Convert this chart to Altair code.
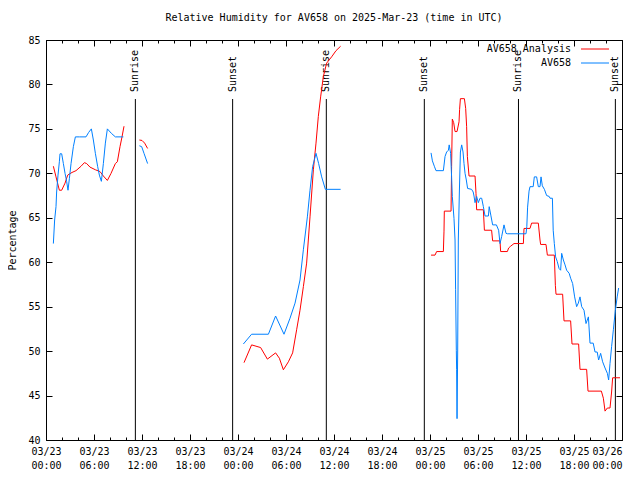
import altair as alt
import pandas as pd

MONO = "DejaVu Sans Mono"
TITLE = "Relative Humidity for AV658 on 2025-Mar-23 (time in UTC)"
SERIES = ["AV658 Analysis", "AV658"]
COLORS = ["#ff0000", "#0080ff"]
Y_TICKS = [40, 45, 50, 55, 60, 65, 70, 75, 80, 85]
# x axis: hours since 2025-03-23 00:00 UTC
X_MAJOR = [0, 6, 12, 18, 24, 30, 36, 42, 48, 54, 60, 66, 72]
X_MINOR = [0, 2, 4, 6, 8, 10, 12, 14, 16, 18, 20, 22, 24, 26, 28, 30, 32, 34, 36, 38, 40,
           42, 44, 46, 48, 50, 52, 54, 56, 58, 60, 62, 64, 66, 68, 70, 72]

an_h1 = [0.92, 1.25, 1.67, 1.96, 2.38, 2.71, 3.25, 3.75, 4.38, 4.8, 5.08, 5.5, 6.17, 6.75,
         7.17, 7.67, 8.13, 8.67, 8.92, 9.25, 9.5, 9.75]
an_v1 = [70.8, 69.6, 68.1, 68.1, 68.9, 69.8, 70.1, 70.3, 70.8, 71.2, 71.1, 70.7, 70.4, 70.2,
         69.7, 69.2, 70.0, 71.1, 71.3, 73.0, 74.1, 75.3]
an_h2 = [11.67, 12.0, 12.33, 12.7]
an_v2 = [73.75, 73.7, 73.4, 72.8]
an_h3 = [24.75, 25.7, 26.83, 27.67, 28.7, 29.17, 29.67, 30.3, 30.83, 31.33, 31.75, 32.17,
         32.58, 33.0, 33.42, 33.75, 34.04, 34.33, 34.67, 35.08, 35.7, 36.25, 36.83]
an_v3 = [48.7, 50.7, 50.4, 49.1, 49.8, 49.2, 47.9, 48.8, 49.8, 52.4, 54.6, 57.25,
         59.9, 65.1, 70.4, 73.4, 76.4, 78.6, 80.9, 82.4, 83.1, 83.8, 84.3]
an_h4 = [48.13, 48.63, 48.83, 49.67, 49.75, 49.79, 50.63, 50.7, 50.79, 50.96, 51.13, 51.38,
         51.63, 51.7, 51.8, 52.3, 52.46, 52.58, 52.67, 52.88, 53.63, 53.75, 53.83, 54.67,
         54.8, 55.7, 55.83, 56.75, 56.83, 57.67, 57.83, 58.08, 58.5, 59.67, 59.75, 60.5,
         60.7, 61.54, 61.75, 61.83, 62.5, 62.67, 63.54, 63.67, 63.75, 64.58, 64.75, 65.58,
         65.75, 66.58, 66.75, 67.58, 67.75, 69.42, 69.67, 69.88, 70.17, 70.5, 70.7, 70.83,
         71.75]
an_v4 = [60.8, 60.8, 61.2, 61.2, 63.5, 65.75, 65.75, 70.75, 76.1, 75.7, 74.7, 74.7,
         75.8, 77.2, 78.4, 78.4, 77.3, 75.25, 71.9, 69.7, 69.7, 67.75, 65.9, 65.9,
         63.6, 63.6, 62.4, 62.4, 61.2, 61.2, 61.6, 61.8, 62.1, 62.1, 63.8, 63.8,
         64.4, 64.4, 62.5, 62.0, 62.0, 60.8, 60.8, 57.4, 56.4, 56.4, 53.4, 53.4,
         50.8, 50.8, 47.95, 47.95, 45.5, 45.5, 44.7, 43.25, 43.6, 43.6, 45.4, 47.0,
         47.0]

ob_h1 = [0.92, 1.08, 1.25, 1.33, 1.5, 1.67, 1.75, 1.96, 2.17, 2.38, 2.58, 2.75, 2.92, 3.13,
         3.42, 3.67, 4.17, 5.0, 5.33, 5.67, 5.92, 6.17, 6.46, 6.67, 6.92, 7.17, 7.42, 7.67,
         8.17, 8.67, 9.67]
ob_v1 = [62.1, 64.75, 66.25, 67.9, 69.8, 71.3, 72.2, 72.2, 71.1, 70.0, 69.1, 68.1, 69.4, 71.1,
         73.0, 74.1, 74.1, 74.1, 74.6, 75.0, 73.75, 72.25, 70.75, 69.8, 69.1, 71.1, 73.4, 75.0,
         74.5, 74.1, 74.1]
ob_h2 = [11.67, 11.96, 12.25, 12.7]
ob_v2 = [73.1, 73.0, 72.25, 71.1]
ob_h3 = [24.67, 25.7, 27.8, 28.7, 29.75, 30.5, 31.13, 31.75, 32.17, 32.67, 33.0, 33.33,
         33.75, 34.08, 34.46, 34.92, 36.83]
ob_v3 = [50.8, 51.9, 51.9, 53.95, 51.9, 53.7, 55.4, 58.0, 61.4, 65.1, 68.1, 70.75,
         72.25, 71.1, 69.6, 68.2, 68.2]
ob_h4 = [48.13, 48.3, 48.54, 48.75, 49.67, 49.88, 50.08, 50.3, 50.4, 50.58, 50.7, 50.79,
         51.0, 51.13, 51.2, 51.29, 51.33, 51.38, 51.46, 51.54, 51.67, 51.8, 51.96, 52.13,
         52.25, 52.38, 52.54, 52.7, 53.2, 53.4, 53.5, 53.63, 53.83, 54.04, 54.25, 54.46,
         54.67, 54.88, 55.3, 55.4, 55.6, 55.83, 56.3, 56.58, 56.75, 56.96, 57.25, 57.5,
         57.67, 60.0, 60.1, 60.2, 60.38, 60.5, 60.9, 61.04, 61.33, 61.54, 61.75, 61.88,
         62.04, 62.3, 62.58, 62.9, 63.0, 63.3, 63.4, 63.54, 63.7, 63.9, 64.13, 64.33,
         64.46, 64.67, 64.88, 65.08, 65.4, 65.58, 65.83, 66.08, 66.33, 66.54, 66.75, 66.96,
         67.25, 67.5, 67.8, 68.0, 68.4, 68.63, 68.9, 69.08, 69.33, 69.58, 69.88, 70.17,
         70.33, 70.5, 70.7, 70.92, 71.17, 71.4, 71.58]
ob_v4 = [72.3, 71.4, 70.8, 70.3, 70.3, 71.9, 72.4, 72.6, 73.2, 72.25, 69.6, 67.4,
         64.9, 62.5, 56.9, 50.1, 47.9, 42.4, 49.9, 62.5, 67.9, 72.4, 73.2, 72.4,
         71.1, 70.0, 69.25, 68.3, 68.2, 67.9, 67.45, 66.7, 67.4, 66.7, 67.2, 67.2,
         66.25, 65.2, 65.2, 66.25, 65.3, 64.2, 64.2, 63.6, 62.1, 62.9, 64.2, 63.25,
         63.2, 63.2, 64.0, 66.2, 68.0, 68.5, 68.5, 69.6, 69.6, 68.5, 68.5, 69.6,
         68.6, 68.2, 67.5, 67.4, 67.2, 67.2, 63.6, 62.1, 60.6, 60.1, 59.3, 59.1,
         61.0, 60.25, 59.7, 59.1, 58.75, 58.2, 57.6, 56.1, 55.0, 55.4, 56.1, 55.0,
         54.6, 53.1, 53.85, 50.9, 50.9, 49.9, 49.9, 49.0, 49.75, 48.8, 48.1, 47.5,
         46.75, 48.6, 50.5, 52.4, 54.6, 56.1, 57.1]

sun_h = [11.17, 23.33, 35.04, 47.29, 59.06, 71.17]
sun_label = ["Sunrise", "Sunset", "Sunrise", "Sunset", "Sunrise", "Sunset"]

rows = []
for name, segs in [(SERIES[0], [(an_h1, an_v1), (an_h2, an_v2), (an_h3, an_v3), (an_h4, an_v4)]),
                   (SERIES[1], [(ob_h1, ob_v1), (ob_h2, ob_v2), (ob_h3, ob_v3), (ob_h4, ob_v4)])]:
    for i, (hs, vs) in enumerate(segs):
        for h, v in zip(hs, vs):
            rows.append({"series": name, "seg": f"{name}-{i}", "h": h, "rh": v})
df = pd.DataFrame(rows)
sun = pd.DataFrame({"h": sun_h, "label": sun_label})
legend_df = pd.DataFrame({"series": SERIES})

xscale = alt.Scale(domain=[0, 72], nice=False, zero=False)
yscale = alt.Scale(domain=[40, 85], nice=False, zero=False)
cscale = alt.Scale(domain=SERIES, range=COLORS)

LABEL_EXPR = ("['03/' + (23 + floor(datum.value / 24)), "
              "(datum.value % 24 < 10 ? '0' : '') + (datum.value % 24) + ':00']")


def xaxis(orient, values, size, labels):
    kw = dict(orient=orient, values=values, tickSize=size, offset=-size, tickColor="black",
              domain=False, grid=False, title=None, labels=labels)
    if labels:
        kw.update(labelExpr=LABEL_EXPR, labelFont=MONO, labelFontSize=10, labelColor="black",
                  labelPadding=6, labelFlush=False, labelOverlap=False, labelBound=False,
                  labelLineHeight=14,
                  labelAlign={"condition": {"test": "datum.value >= 72", "value": "right"},
                              "value": "center"})
    return alt.Axis(**kw)


def yaxis(orient, labels):
    kw = dict(orient=orient, values=Y_TICKS, tickSize=6, offset=-6, tickColor="black",
              domain=False, grid=False, labels=labels, title=None)
    if labels:
        kw.update(labelFont=MONO, labelFontSize=10, labelColor="black", labelPadding=6,
                  title="Percentage", titleFont=MONO, titleFontSize=10, titleFontWeight="normal",
                  titleColor="black", titleX=-40, titleBaseline="middle", titleAngle=270)
    return alt.Axis(**kw)


rules = alt.Chart(sun).mark_rule(color="black", strokeWidth=1).encode(
    x=alt.X("h:Q", scale=xscale, axis=xaxis("top", X_MINOR, 3, False)),
    y=alt.value(59), y2=alt.value(400))

texts = alt.Chart(sun).mark_text(angle=270, align="left", baseline="middle", font=MONO,
                                 fontSize=10, color="black").encode(
    x=alt.X("h:Q", scale=xscale, axis=xaxis("top", X_MAJOR, 6, False)),
    y=alt.value(52), text="label:N")

ghost = alt.Chart(df).mark_line(strokeOpacity=0).encode(
    x=alt.X("h:Q", scale=xscale, axis=xaxis("bottom", X_MINOR, 3, False)),
    y=alt.Y("rh:Q", scale=yscale, axis=yaxis("right", False)),
    detail="seg:N")

lines = alt.Chart(df).mark_line(strokeWidth=1).encode(
    x=alt.X("h:Q", scale=xscale, axis=xaxis("bottom", X_MAJOR, 6, True)),
    y=alt.Y("rh:Q", scale=yscale, axis=yaxis("left", True)),
    color=alt.Color("series:N", scale=cscale, legend=None),
    detail="seg:N")

legend_layers = []
for i, ypos in enumerate([9, 23]):
    row = legend_df.iloc[[i]]
    legend_layers.append(alt.Chart(row).mark_text(align="right", baseline="middle", font=MONO,
                                                  fontSize=10, color="black").encode(
        x=alt.value(525), y=alt.value(ypos), text="series:N"))
    legend_layers.append(alt.Chart(row).mark_rule(strokeWidth=1).encode(
        x=alt.value(535), x2=alt.value(563), y=alt.value(ypos),
        color=alt.Color("series:N", scale=cscale, legend=None)))

chart = alt.layer(rules, texts, ghost, lines, *legend_layers).resolve_axis(
    x="independent", y="independent").properties(
    width=576, height=400, autosize="none",
    padding={"left": 38, "top": 32, "right": 10, "bottom": 30},
    title=alt.TitleParams(TITLE, font=MONO, fontSize=10, fontWeight="normal", color="black",
                          anchor="middle", baseline="alphabetic", offset=4),
).configure_view(stroke="black", strokeWidth=1)

chart.save("out.html", embed_options={"renderer": "svg", "actions": False})
